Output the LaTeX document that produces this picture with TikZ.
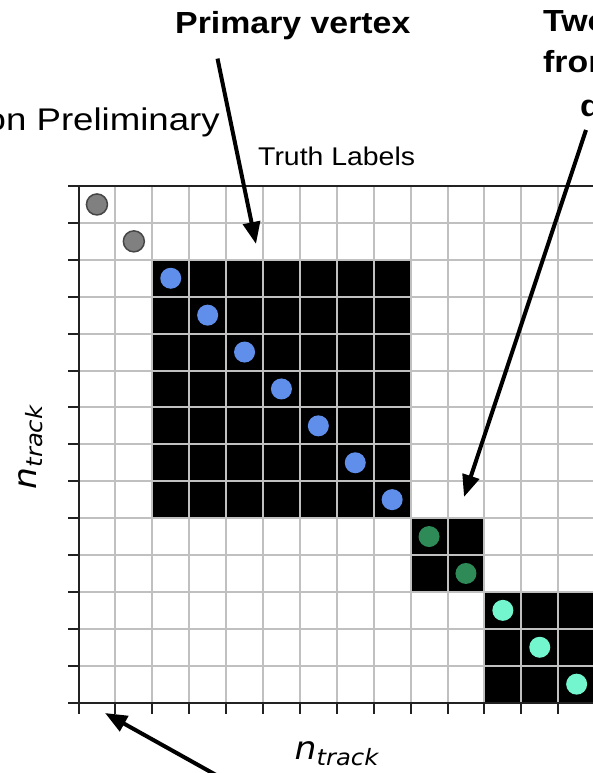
\documentclass[tikz,border=0pt]{standalone}
\usepackage{fontspec}
\usetikzlibrary{arrows.meta}
\newfontfamily\labfont{Liberation Sans}[FakeStretch=1.11]
\newfontfamily\prelfont{Liberation Sans}[FakeStretch=1.17]
\newfontfamily\axfont{DejaVu Sans}[FakeStretch=1.08]

\definecolor{gridgray}{RGB}{192,192,192}
\definecolor{spinecol}{RGB}{34,34,34}
\definecolor{bgdot}{RGB}{128,128,128}
\definecolor{bgdotline}{RGB}{70,70,70}
\definecolor{pvdot}{RGB}{95,143,235}
\definecolor{svdot}{RGB}{46,139,87}
\definecolor{thdot}{RGB}{115,245,205}

\tikzset{
  gridline/.style={draw=gridgray, line width=2pt},
  spine/.style={draw=spinecol, line width=2pt},
  tickmark/.style={draw=spinecol, line width=2pt},
  block/.style={fill=black},
  trackdot/.style={circle, inner sep=0pt, minimum size=21pt},
  ptr/.style={draw=black, line width=4pt, -{Triangle[length=22pt,width=17pt]}},
  boldlab/.style={inner sep=0pt, font=\labfont\bfseries\fontsize{30.5}{30.5}\selectfont},
  axlab/.style={inner sep=0pt, font=\axfont\itshape},
}

% n_track axis label: italic n with lowered subscript
\newcommand{\ntracklabel}{{\fontsize{32}{32}\selectfont n}\raisebox{-5.7pt}{\fontsize{22.5}{22.5}\selectfont track}}

\begin{document}
\begin{tikzpicture}[x=1pt, y=-1pt]
  \useasboundingbox[fill=white] (0,0) rectangle (593,773);

  % grid geometry: origin and cell width
  \def\gx{78.5}
  \def\gy{186}
  \def\cw{36.9}

  % vertex blocks
  \fill[block] ({\gx+2*\cw},{\gy+2*\cw}) rectangle ++({7*\cw},{7*\cw});
  \fill[block] ({\gx+9*\cw},{\gy+9*\cw}) rectangle ++({2*\cw},{2*\cw});
  \fill[block] ({\gx+11*\cw},{\gy+11*\cw}) rectangle ++({3*\cw},{3*\cw});

  % cell grid
  \foreach \k in {1,...,14} {
    \draw[gridline] ({\gx+\k*\cw},\gy) -- ({\gx+\k*\cw},{\gy+14*\cw});
    \draw[gridline] (\gx,{\gy+\k*\cw}) -- ({\gx+14*\cw},{\gy+\k*\cw});
  }

  % axes and ticks
  \draw[spine] (\gx,\gy) -- (\gx,{\gy+14*\cw});
  \draw[spine] ({\gx-10.5},\gy) -- ({\gx+14*\cw},\gy);
  \draw[spine] ({\gx-10.5},{\gy+14*\cw}) -- ({\gx+14*\cw},{\gy+14*\cw});
  \foreach \k in {1,...,13} {
    \draw[tickmark] ({\gx-10.5},{\gy+\k*\cw}) -- (\gx,{\gy+\k*\cw});
  }
  \foreach \k in {0,...,14} {
    \draw[tickmark] ({\gx+\k*\cw},{\gy+14*\cw}) -- ({\gx+\k*\cw},{\gy+14*\cw+11});
  }

  % tracks on the diagonal
  \foreach \i in {0,1} {
    \node[trackdot, fill=bgdot, draw=bgdotline, line width=1.5pt] (bg\i)
      at ({\gx+(\i+0.5)*\cw},{\gy+(\i+0.5)*\cw}) {};
  }
  \foreach \i in {2,...,8} {
    \node[trackdot, fill=pvdot] (pv\i) at ({\gx+(\i+0.5)*\cw},{\gy+(\i+0.5)*\cw}) {};
  }
  \foreach \i in {9,10} {
    \node[trackdot, fill=svdot] (sv\i) at ({\gx+(\i+0.5)*\cw},{\gy+(\i+0.5)*\cw}) {};
  }
  \foreach \i in {11,12,13} {
    \node[trackdot, fill=thdot] (tv\i) at ({\gx+(\i+0.5)*\cw},{\gy+(\i+0.5)*\cw}) {};
  }

  % titles and labels
  \node[inner sep=0pt, anchor=base east, font=\prelfont\fontsize{31.3}{31.3}\selectfont]
    (prelim) at (220,130.7) {Simulation Preliminary};
  \node[inner sep=0pt, anchor=base west, font=\labfont\fontsize{25.6}{25.6}\selectfont]
    (truth) at (258,165) {Truth Labels};
  \node[boldlab, anchor=base west] (pvlabel) at (175,33.3) {Primary vertex};
  \node[boldlab, anchor=base west] (svlabelA) at (543,32) {Two};
  \node[boldlab, anchor=base west] (svlabelB) at (543,72.7) {from};
  \node[boldlab, anchor=base west] (svlabelC) at (580,116.7) {d};

  \node[axlab, anchor=base] (xlabel) at (336.5,759.3) {\ntracklabel};
  \node[axlab, anchor=base, rotate=90] (ylabel) at (36.7,447.5) {\ntracklabel};

  % pointers
  \coordinate (pvtail) at (217.5,58.6);
  \coordinate (pvhead) at (256,244);
  \coordinate (svtail) at (586,130);
  \coordinate (svhead) at (464,497);
  \coordinate (bgtail) at (234,785);
  \coordinate (bghead) at (105,713);
  \draw[ptr] (pvtail) -- (pvhead);
  \draw[ptr] (svtail) -- (svhead);
  \draw[ptr] (bgtail) -- (bghead);
\end{tikzpicture}
\end{document}
